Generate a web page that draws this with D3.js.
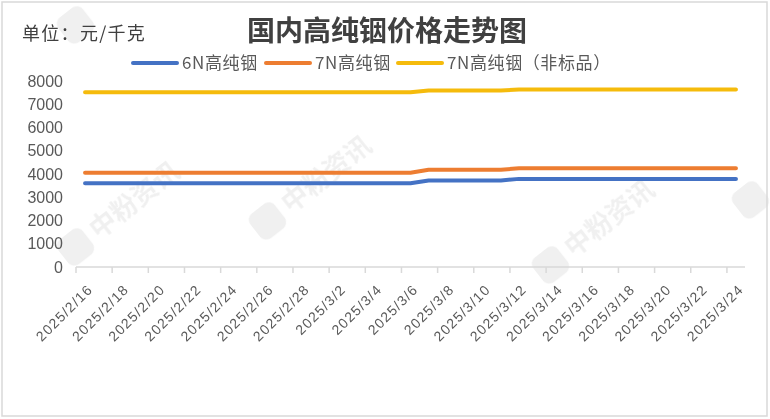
<!DOCTYPE html>
<html><head><meta charset="utf-8">
<script src="https://cdn.jsdelivr.net/npm/d3@7/dist/d3.min.js"></script>
<style>body{margin:0;background:#fff}svg{display:block}</style>
</head><body>
<svg id="c" width="770" height="419"></svg>
<script>
// ---- data ----
const dates = ["2025/2/16","2025/2/17","2025/2/18","2025/2/19","2025/2/20","2025/2/21","2025/2/22","2025/2/23","2025/2/24","2025/2/25","2025/2/26","2025/2/27","2025/2/28","2025/3/1","2025/3/2","2025/3/3","2025/3/4","2025/3/5","2025/3/6","2025/3/7","2025/3/8","2025/3/9","2025/3/10","2025/3/11","2025/3/12","2025/3/13","2025/3/14","2025/3/15","2025/3/16","2025/3/17","2025/3/18","2025/3/19","2025/3/20","2025/3/21","2025/3/22","2025/3/23","2025/3/24"];
const s6N   = [3600,3600,3600,3600,3600,3600,3600,3600,3600,3600,3600,3600,3600,3600,3600,3600,3600,3600,3600,3720,3720,3720,3720,3720,3790,3790,3790,3790,3790,3790,3790,3790,3790,3790,3790,3790,3790];
const s7N   = [4050,4050,4050,4050,4050,4050,4050,4050,4050,4050,4050,4050,4050,4050,4050,4050,4050,4050,4050,4180,4180,4180,4180,4180,4250,4250,4250,4250,4250,4250,4250,4250,4250,4250,4250,4250,4250];
const s7NF  = [7520,7520,7520,7520,7520,7520,7520,7520,7520,7520,7520,7520,7520,7520,7520,7520,7520,7520,7520,7590,7590,7590,7590,7590,7630,7630,7630,7630,7630,7630,7630,7630,7630,7630,7630,7630,7630];
const seriesNames = ["6N高纯铟","7N高纯铟","7N高纯铟（非标品）"];
const yTicks = [0,1000,2000,3000,4000,5000,6000,7000,8000];
const title = "国内高纯铟价格走势图";
const unitLabel = "单位：元/千克";

// ---- drawing ----
const svg = d3.select("#c");
const colors = ["#4472C4","#ED7D31","#F5BB0C"];
const series = [s6N, s7N, s7NF];

// faint watermarks
const wm = svg.append("g").attr("fill","#000").attr("opacity",0.06)
  .attr("font-family","'Noto Sans CJK SC'").attr("font-weight","bold");
[[70,262,true],[262,236,true],[545,280,true],[745,215,false],[70,40,false]].forEach(([x,y,t])=>{
  const fs = 24;
  const g = wm.append("g").attr("transform",`translate(${x},${y}) rotate(-38)`);
  g.append("rect").attr("x",-2).attr("y",-fs).attr("width",fs*1.3).attr("height",fs*1.3).attr("rx",8);
  if (t) g.append("text").attr("x",fs*1.5).attr("y",0).attr("font-size",fs*1.1).text("中粉资讯");
});

// border
svg.append("rect").attr("x",2).attr("y",2).attr("width",765).attr("height",414)
  .attr("fill","none").attr("stroke","#d9d9d9").attr("stroke-width",1.5);

const x = d3.scaleBand().domain(dates).range([76,745]).padding(0);
const y = d3.scaleLinear().domain([0,8000]).range([267,81]);

// y axis labels
svg.append("g").selectAll("text").data(yTicks).join("text")
  .attr("x",63).attr("y",d=>y(d)).attr("dy","0.35em").attr("text-anchor","end")
  .attr("font-family","'Liberation Sans', Arial, sans-serif").attr("font-size",16)
  .attr("fill","#595959").text(d=>d);

// x axis line and ticks
const tickIdx = d3.range(0, dates.length, 2);
const ax = svg.append("g");
ax.append("line").attr("x1",x.range()[0]).attr("x2",x.range()[1]).attr("y1",267).attr("y2",267)
  .attr("stroke","#d9d9d9").attr("stroke-width",1.5);
ax.selectAll("line.t").data(tickIdx).join("line").attr("class","t")
  .attr("x1",i=>x(dates[i])).attr("x2",i=>x(dates[i])).attr("y1",267).attr("y2",273)
  .attr("stroke","#d9d9d9").attr("stroke-width",1.5);
ax.selectAll("text").data(tickIdx).join("text")
  .attr("transform",i=>`translate(${x(dates[i])+x.bandwidth()/2+5},${287}) rotate(-45)`)
  .attr("text-anchor","end").attr("dy","0.35em")
  .attr("font-family","'Liberation Sans', Arial, sans-serif").attr("font-size",14)
  .attr("letter-spacing","1.2px")
  .attr("fill","#595959").text(i=>dates[i]);

// lines
const line = d3.line().x((d,i)=>x(dates[i])+x.bandwidth()/2).y(d=>y(d));
svg.append("g").selectAll("path").data(series).join("path")
  .attr("d",line).attr("fill","none").attr("stroke",(d,i)=>colors[i])
  .attr("stroke-width",4).attr("stroke-linecap","round").attr("stroke-linejoin","round");

// title
svg.append("text").attr("x",387).attr("y",41).attr("text-anchor","middle")
  .attr("font-family","'Noto Sans CJK SC'").attr("font-weight","bold").attr("font-size",28)
  .attr("fill","#404040").text(title);
svg.append("text").attr("x",22).attr("y",40)
  .attr("font-family","'Noto Sans CJK SC'").attr("font-size",18).attr("letter-spacing","1.3px")
  .attr("fill","#404040").text(unitLabel);

// legend
const legX = [133,266,398];
const lg = svg.append("g");
seriesNames.forEach((n,i)=>{
  lg.append("line").attr("x1",legX[i]).attr("x2",legX[i]+44).attr("y1",63).attr("y2",63)
    .attr("stroke",colors[i]).attr("stroke-width",4).attr("stroke-linecap","round");
  lg.append("text").attr("x",legX[i]+49).attr("y",63).attr("dy","0.36em")
    .attr("font-family","'Noto Sans CJK SC'").attr("font-size",17).attr("letter-spacing","0.6px")
    .attr("fill","#595959").text(n);
});
</script>
</body></html>
